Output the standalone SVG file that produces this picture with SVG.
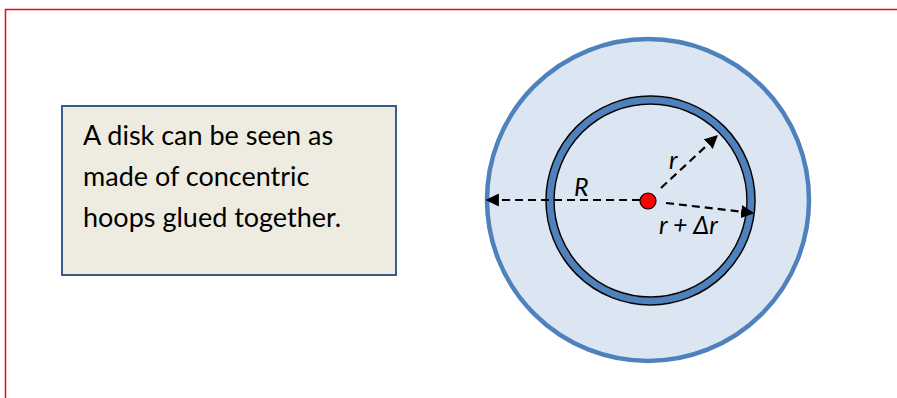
<svg xmlns="http://www.w3.org/2000/svg" width="897" height="398" viewBox="0 0 897 398">
<style>
.lbl{font-family:Lato,"Open Sans",sans-serif;font-style:italic;font-size:25px;fill:#000}
.txt{font-family:Lato,"Open Sans",sans-serif;font-size:27px;fill:#000}
.dash{stroke:#000;stroke-width:2.2;stroke-dasharray:8,5;fill:none}
</style>
<defs>
<marker id="ah" viewBox="0 0 10 10" refX="9" refY="5" markerWidth="6" markerHeight="6" orient="auto" markerUnits="strokeWidth">
<path d="M0,0L10,5L0,10z" fill="#000"/>
</marker>
</defs>
<rect width="897" height="398" fill="#fff"/>
<path d="M5.5,398V9.5H897" fill="none" stroke="#f00" stroke-width="1.5"/>
<g id="textbox">
<rect x="62" y="106" width="334" height="169" fill="#EEECE1" stroke="#385D8A" stroke-width="2"/>
<text class="txt" x="83" y="145">A disk can be seen as</text>
<text class="txt" x="83" y="186">made of concentric</text>
<text class="txt" x="83" y="227">hoops glued together.</text>
</g>
<g id="disk">
<circle cx="648" cy="200" r="161" fill="#DCE6F2" stroke="#4F81BD" stroke-width="4.5"/>
</g>
<g id="hoop">
<circle cx="650.5" cy="200.5" r="100.5" fill="none" stroke="#4F81BD" stroke-width="7"/>
<circle cx="650.5" cy="200.5" r="104.5" fill="none" stroke="#000" stroke-width="1.5"/>
<circle cx="650.5" cy="200.5" r="96.5" fill="none" stroke="#000" stroke-width="1.5"/>
</g>
<g id="connectors">
<line class="dash" x1="640" y1="200" x2="487" y2="200" marker-end="url(#ah)"/>
<line class="dash" x1="661" y1="188" x2="717" y2="136" marker-end="url(#ah)"/>
<line class="dash" x1="666" y1="203" x2="753" y2="213" marker-end="url(#ah)"/>
</g>
<g id="center">
<circle cx="648" cy="201" r="8" fill="#f00" stroke="#000" stroke-width="1.2"/>
</g>
<g id="labels">
<text class="lbl" x="574" y="196">R</text>
<text class="lbl" x="669" y="169">r</text>
<text class="lbl" x="659" y="234">r + Δr</text>
</g>
</svg>
